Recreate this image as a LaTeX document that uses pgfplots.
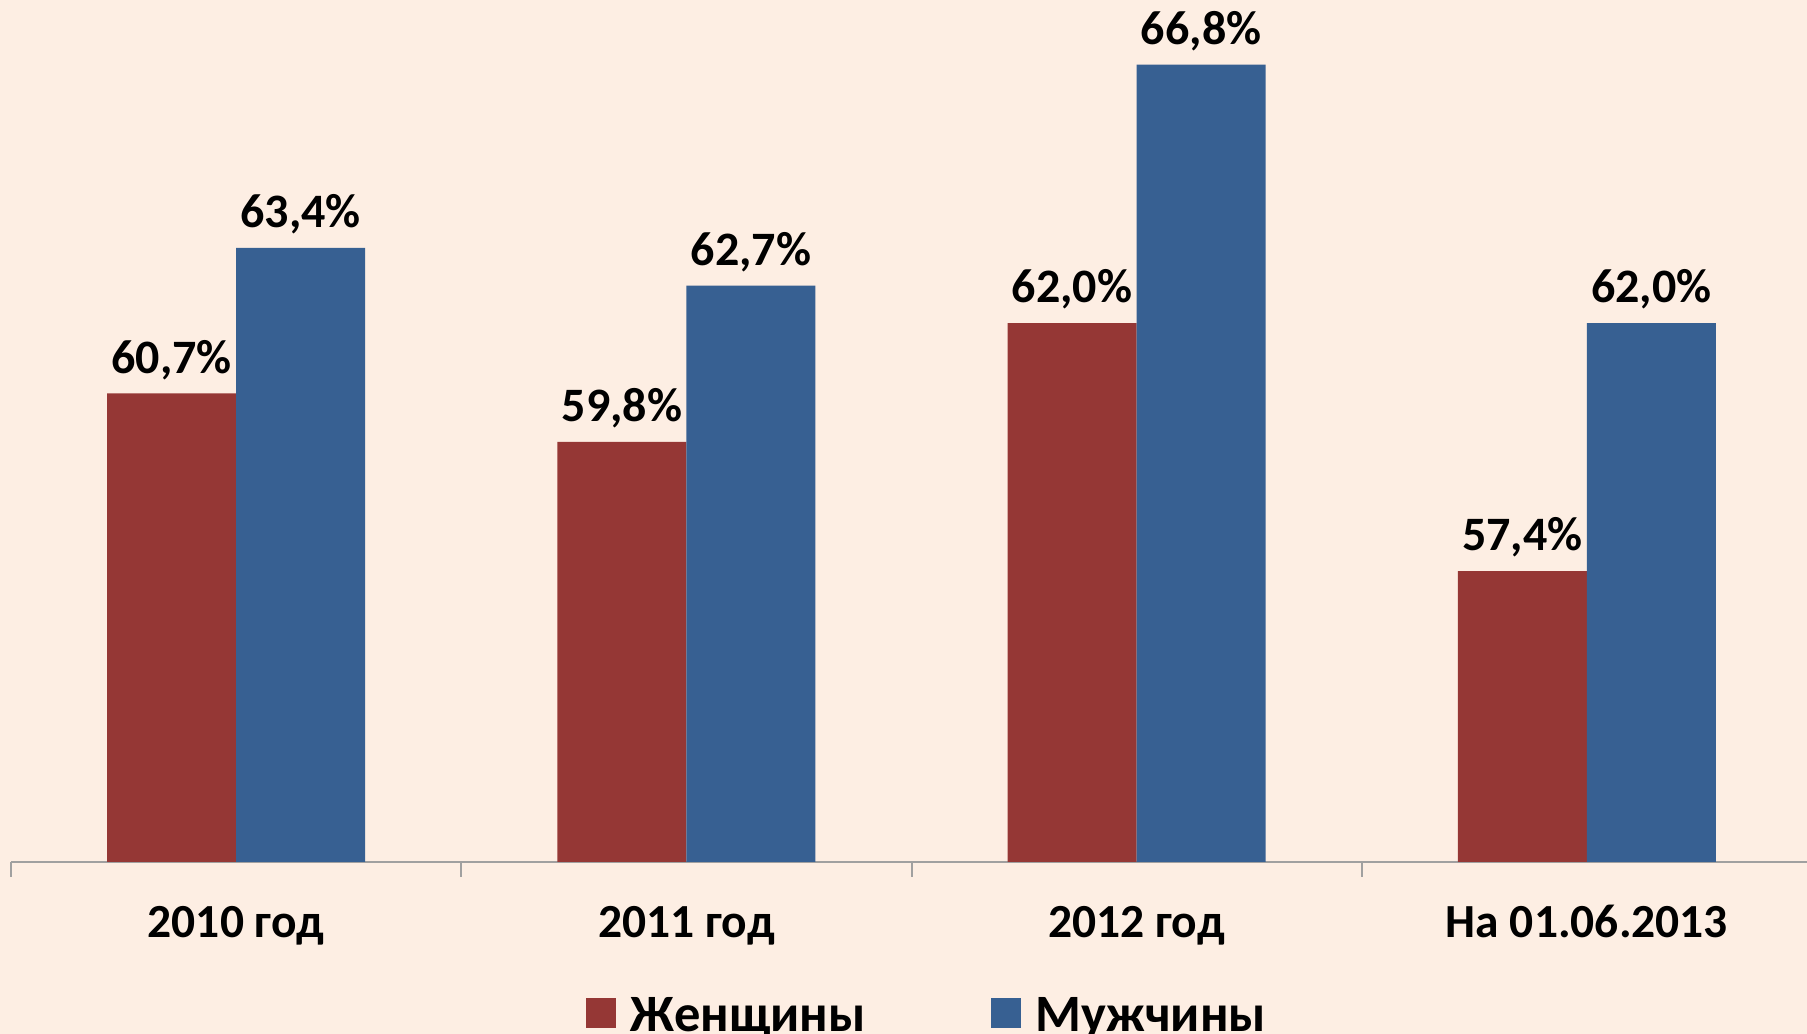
\documentclass[border=0pt]{standalone}
\usepackage{fontspec}
\setmainfont{Carlito}
\usepackage{pgfplots}
\pgfplotsset{compat=1.18}
\definecolor{bg}{HTML}{FDEEE3}
\definecolor{cred}{HTML}{953735}
\definecolor{cblue}{HTML}{376092}
\definecolor{axgray}{HTML}{A0A0A0}
\begin{document}
\begin{tikzpicture}
\fill[bg] (0,0) rectangle (722.8pt,413.6pt);
\useasboundingbox (0,0) rectangle (722.8pt,413.6pt);
\clip (0,0) rectangle (722.8pt,413.6pt);
\begin{axis}[
  at={(4.4pt,68.8pt)}, anchor=south west,
  scale only axis, width=720.4pt, height=344.8pt,
  ymin=52, ymax=68, xmin=-0.5, xmax=3.5,
  axis y line=none, axis x line*=bottom,
  x axis line style={axgray, line width=0.8pt},
  xtick={0,1,2,3},
  xticklabels={2010 год, 2011 год, 2012 год, На 01.06.2013},
  major tick length=0pt,
  minor xtick={-0.5,0.5,1.5,2.5,3.5},
  minor tick length=6pt,
  tick align=outside,
  xtick style={axgray, line width=0.8pt},
  xticklabel style={font=\fontsize{19}{19}\selectfont\bfseries, anchor=base, yshift=-30.3pt},
  ybar,
  /pgf/number format/assume math mode=true,
  nodes near coords={\pgfmathprintnumber[fixed,fixed zerofill,precision=1,use comma]{\pgfplotspointmeta}\%},
  every node near coord/.append style={font=\fontsize{19.2}{19.2}\selectfont\bfseries, text=black, anchor=base, yshift=8.1pt},
  legend columns=2,
  legend style={at={(axis description cs:0.3148,-0.1453)}, anchor=north west, draw=none, fill=none,
    font=\fontsize{21}{21}\selectfont\bfseries,
    /tikz/every even column/.append style={column sep=48pt},
    /tikz/every odd column/.append style={column sep=4pt}},
  legend image code/.code={\fill[#1] (0pt,-4.7pt) rectangle (12pt,7.3pt);},
]
\addplot[fill=cred, draw=none, bar width=0.2867, bar shift=-0.14333] coordinates {(0,60.7) (1,59.8) (2,62.0) (3,57.4)};
\addplot[fill=cblue, draw=none, bar width=0.2867, bar shift=0.14333] coordinates {(0,63.4) (1,62.7) (2,66.8) (3,62.0)};
\legend{Женщины, Мужчины}
\end{axis}
\end{tikzpicture}
\end{document}
